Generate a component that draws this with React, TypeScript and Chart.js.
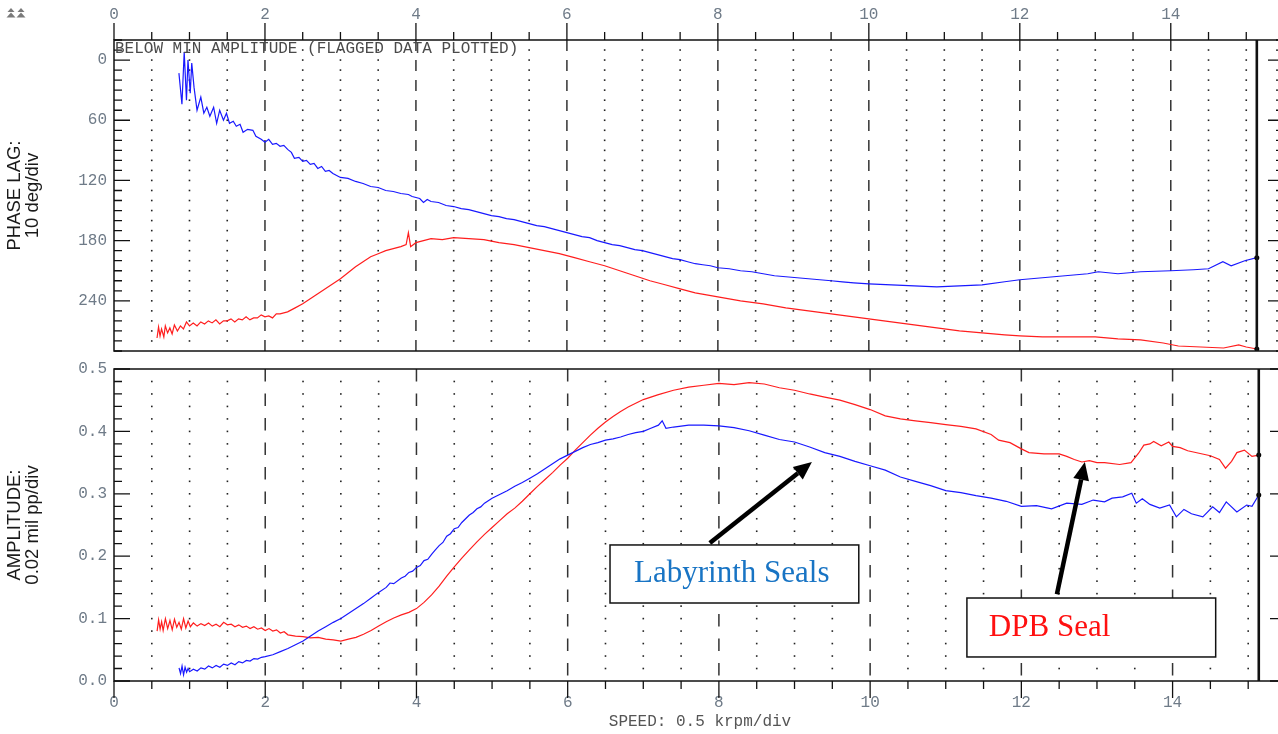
import React, { useEffect, useRef } from 'react';
import { Chart, registerables } from 'chart.js';

Chart.register(...registerables);

// ---------- data ----------
const SPEED_MIN = 0;
const SPEED_MAX = 15.5;
const SPEED_TICK_LABELS = [0, 2, 4, 6, 8, 10, 12, 14];
const PHASE_TICK_LABELS = [0, 60, 120, 180, 240];
const AMP_TICK_LABELS = [0, 0.1, 0.2, 0.3, 0.4, 0.5];

const SERIES_NAMES = ['Labyrinth Seals', 'DPB Seal'];

// [speed krpm, phase lag deg]
const phaseLabyrinth: [number, number][] = [
  [0.86, 13], [0.9, 44], [0.93, -8], [0.96, 40], [0.98, 0], [1.01, 33], [1.03, 3], [1.06, 27],
  [1.1, 50], [1.15, 37], [1.19, 53], [1.23, 47], [1.27, 56], [1.32, 47], [1.36, 63], [1.4, 50],
  [1.45, 60], [1.49, 53], [1.53, 63], [1.58, 61], [1.62, 66], [1.67, 64], [1.71, 72], [1.77, 69],
  [1.84, 70], [1.88, 76], [1.95, 79],
  [2.0, 82], [2.05, 79], [2.1, 84], [2.15, 83], [2.2, 86], [2.25, 85], [2.3, 89], [2.35, 92],
  [2.39, 98], [2.45, 97], [2.5, 101], [2.55, 100], [2.6, 104], [2.65, 103], [2.7, 108], [2.75, 106],
  [2.8, 111], [2.85, 110], [2.9, 113], [2.95, 115], [3.0, 117], [3.1, 118], [3.2, 121], [3.3, 123],
  [3.4, 126], [3.5, 127], [3.6, 130], [3.7, 131], [3.8, 133], [3.9, 134], [3.95, 136], [4.05, 138],
  [4.1, 142], [4.15, 139], [4.2, 141], [4.3, 142], [4.4, 145], [4.5, 146], [4.6, 148], [4.7, 149],
  [4.8, 151], [4.9, 153], [5.0, 155], [5.1, 156], [5.2, 158], [5.3, 159], [5.4, 161], [5.5, 163],
  [5.6, 165], [5.7, 166], [5.8, 168], [5.9, 170], [6.0, 172], [6.1, 174], [6.2, 176], [6.3, 177],
  [6.4, 180], [6.5, 182], [6.6, 184], [6.7, 185], [6.8, 187], [6.9, 189], [7.0, 190], [7.1, 192],
  [7.2, 194], [7.3, 196], [7.4, 198], [7.5, 199], [7.6, 201], [7.7, 203], [7.8, 204], [7.9, 205],
  [8.0, 207], [8.15, 208], [8.3, 210], [8.45, 211], [8.6, 213], [8.75, 215], [8.9, 216],
  [9.05, 217], [9.2, 218], [9.35, 219], [9.5, 220], [9.65, 221], [9.8, 222], [10.0, 223],
  [10.3, 224], [10.6, 225], [10.9, 226], [11.2, 225], [11.5, 224], [11.8, 221], [12.0, 219],
  [12.3, 217], [12.6, 215], [12.9, 213], [13.04, 211], [13.3, 213], [13.6, 211], [14.0, 210],
  [14.3, 209], [14.5, 208], [14.69, 201], [14.8, 205], [14.98, 200], [15.14, 197],
];

const phaseDPB: [number, number][] = [
  [0.57, 277], [0.59, 266], [0.61, 275], [0.63, 268], [0.66, 276], [0.68, 265], [0.71, 272],
  [0.74, 267], [0.77, 273], [0.8, 264], [0.84, 270], [0.88, 265], [0.92, 268], [0.96, 261],
  [1.0, 265], [1.05, 262], [1.1, 265], [1.15, 261], [1.2, 263], [1.25, 260], [1.3, 262],
  [1.35, 259], [1.4, 263], [1.45, 260], [1.5, 260], [1.55, 258], [1.6, 261], [1.65, 258],
  [1.7, 259], [1.75, 256], [1.8, 259], [1.85, 257], [1.9, 257], [1.95, 254], [2.0, 256],
  [2.05, 255], [2.1, 257], [2.15, 253], [2.2, 253], [2.3, 251], [2.4, 247],
  [2.5, 243], [2.6, 238], [2.7, 233], [2.8, 228], [2.9, 223], [3.0, 218], [3.1, 212], [3.2, 206],
  [3.3, 201], [3.4, 196], [3.5, 193], [3.6, 190], [3.7, 188], [3.8, 186], [3.87, 184], [3.9, 172],
  [3.93, 186], [4.0, 182], [4.1, 180], [4.2, 178], [4.35, 179], [4.5, 177], [4.7, 178], [4.9, 179],
  [5.1, 182], [5.3, 184], [5.5, 187], [5.7, 190], [5.9, 193], [6.1, 197], [6.3, 201], [6.5, 205],
  [6.7, 210], [6.9, 215], [7.1, 220], [7.3, 224], [7.5, 228], [7.7, 232], [8.0, 236], [8.3, 240],
  [8.6, 243], [8.9, 247], [9.2, 250], [9.5, 253], [9.8, 256], [10.0, 258], [10.3, 261], [10.6, 264],
  [10.9, 267], [11.2, 270], [11.5, 272], [11.8, 274], [12.0, 275], [12.3, 276], [12.6, 276],
  [13.0, 276], [13.3, 278], [13.6, 279], [13.9, 282], [14.1, 285], [14.4, 286], [14.7, 287],
  [14.9, 284], [15.0, 286], [15.14, 288],
];

// [speed krpm, amplitude mil pp]
const ampLabyrinth: [number, number][] = [
  [0.86, 0.021], [0.88, 0.012], [0.9, 0.024], [0.92, 0.01], [0.94, 0.022], [0.96, 0.014],
  [0.98, 0.02], [1.0, 0.015], [1.05, 0.019], [1.1, 0.016], [1.15, 0.021], [1.2, 0.019],
  [1.25, 0.024], [1.3, 0.021], [1.35, 0.025], [1.4, 0.022], [1.45, 0.027], [1.5, 0.025],
  [1.55, 0.029], [1.6, 0.026], [1.65, 0.031], [1.7, 0.029], [1.75, 0.033], [1.8, 0.032],
  [1.85, 0.036], [1.9, 0.035], [1.95, 0.038], [2.0, 0.039], [2.1, 0.042], [2.2, 0.047],
  [2.3, 0.052], [2.4, 0.058], [2.5, 0.064], [2.6, 0.072],
  [2.7, 0.08], [2.8, 0.087], [2.9, 0.094], [3.0, 0.1], [3.1, 0.108], [3.2, 0.116], [3.3, 0.124],
  [3.4, 0.133], [3.5, 0.142], [3.6, 0.15], [3.65, 0.157], [3.7, 0.156], [3.8, 0.165], [3.85, 0.168],
  [3.9, 0.174], [3.95, 0.176], [4.0, 0.182], [4.05, 0.185], [4.1, 0.193], [4.15, 0.195],
  [4.2, 0.203], [4.25, 0.21], [4.3, 0.217], [4.35, 0.222], [4.4, 0.232], [4.45, 0.236],
  [4.5, 0.244], [4.55, 0.246], [4.6, 0.254], [4.65, 0.26], [4.7, 0.266], [4.75, 0.27],
  [4.8, 0.276], [4.85, 0.279], [4.9, 0.285], [5.0, 0.293], [5.1, 0.299], [5.2, 0.305], [5.3, 0.312],
  [5.4, 0.318], [5.5, 0.325], [5.6, 0.332], [5.7, 0.34], [5.8, 0.348], [5.9, 0.356], [6.0, 0.362],
  [6.1, 0.368], [6.2, 0.374], [6.3, 0.379], [6.4, 0.382], [6.5, 0.386], [6.6, 0.388], [6.7, 0.391],
  [6.8, 0.395], [6.9, 0.398], [7.0, 0.4], [7.1, 0.405], [7.2, 0.41], [7.25, 0.417], [7.3, 0.405],
  [7.4, 0.407], [7.6, 0.41], [7.8, 0.41], [8.0, 0.409], [8.2, 0.406], [8.4, 0.401], [8.6, 0.394],
  [8.8, 0.387], [9.0, 0.383], [9.2, 0.375], [9.4, 0.366], [9.6, 0.36], [9.8, 0.352], [10.0, 0.345],
  [10.2, 0.338], [10.4, 0.327], [10.6, 0.32], [10.8, 0.313], [11.0, 0.305], [11.2, 0.302],
  [11.4, 0.297], [11.6, 0.293], [11.8, 0.288], [12.0, 0.28], [12.2, 0.281], [12.4, 0.276],
  [12.6, 0.285], [12.8, 0.283], [12.95, 0.29], [13.1, 0.287], [13.2, 0.293], [13.34, 0.295],
  [13.46, 0.301], [13.52, 0.285], [13.6, 0.292], [13.7, 0.283], [13.83, 0.277], [13.96, 0.282],
  [14.05, 0.263], [14.15, 0.275], [14.25, 0.268], [14.4, 0.263], [14.53, 0.279], [14.62, 0.27],
  [14.71, 0.287], [14.85, 0.271], [14.98, 0.282], [15.05, 0.28], [15.14, 0.298],
];

const ampDPB: [number, number][] = [
  [0.57, 0.08], [0.59, 0.098], [0.61, 0.083], [0.63, 0.095], [0.65, 0.081], [0.68, 0.1],
  [0.71, 0.084], [0.74, 0.097], [0.77, 0.082], [0.8, 0.099], [0.83, 0.086], [0.86, 0.094],
  [0.89, 0.083], [0.92, 0.1], [0.95, 0.085], [0.98, 0.096], [1.01, 0.087], [1.05, 0.093],
  [1.1, 0.088], [1.15, 0.092], [1.2, 0.089], [1.25, 0.093], [1.3, 0.088], [1.35, 0.091],
  [1.4, 0.087], [1.45, 0.094], [1.5, 0.09], [1.55, 0.091], [1.6, 0.087], [1.65, 0.09],
  [1.7, 0.086], [1.75, 0.088], [1.8, 0.084], [1.85, 0.087], [1.9, 0.083], [1.95, 0.085],
  [2.0, 0.081], [2.05, 0.084], [2.1, 0.08], [2.15, 0.082], [2.2, 0.077], [2.25, 0.079],
  [2.3, 0.074], [2.4, 0.072], [2.5, 0.071], [2.6, 0.069], [2.7, 0.07], [2.8, 0.067],
  [2.9, 0.066], [3.0, 0.064],
  [3.1, 0.067], [3.2, 0.07], [3.3, 0.075], [3.4, 0.081], [3.5, 0.088], [3.6, 0.095], [3.7, 0.101],
  [3.8, 0.106], [3.9, 0.11], [4.0, 0.116], [4.1, 0.126], [4.2, 0.138], [4.3, 0.152], [4.4, 0.168],
  [4.5, 0.183], [4.6, 0.197], [4.7, 0.21], [4.8, 0.223], [4.9, 0.235], [5.0, 0.246], [5.1, 0.257],
  [5.2, 0.268], [5.3, 0.277], [5.4, 0.288], [5.5, 0.3], [5.6, 0.312], [5.7, 0.323], [5.8, 0.334],
  [5.9, 0.346], [6.0, 0.357], [6.1, 0.37], [6.2, 0.382], [6.3, 0.394], [6.4, 0.405], [6.5, 0.415],
  [6.6, 0.424], [6.7, 0.432], [6.8, 0.439], [6.9, 0.445], [7.0, 0.451], [7.2, 0.459], [7.4, 0.466],
  [7.6, 0.471], [7.8, 0.474], [8.0, 0.477], [8.2, 0.475], [8.4, 0.478], [8.6, 0.476], [8.8, 0.47],
  [9.0, 0.466], [9.2, 0.46], [9.4, 0.455], [9.6, 0.45], [9.8, 0.443], [10.0, 0.435], [10.2, 0.425],
  [10.4, 0.42], [10.6, 0.417], [10.8, 0.414], [11.0, 0.411], [11.2, 0.408], [11.4, 0.404],
  [11.6, 0.395], [11.7, 0.386], [11.85, 0.382], [12.0, 0.372], [12.1, 0.366], [12.3, 0.364],
  [12.5, 0.364], [12.6, 0.36], [12.7, 0.355], [12.8, 0.351], [12.9, 0.353], [13.0, 0.35],
  [13.1, 0.35], [13.3, 0.347], [13.45, 0.35], [13.55, 0.365], [13.62, 0.378], [13.7, 0.38],
  [13.75, 0.384], [13.85, 0.377], [13.95, 0.383], [14.0, 0.376], [14.1, 0.374], [14.2, 0.369],
  [14.35, 0.365], [14.5, 0.361], [14.62, 0.355], [14.7, 0.341], [14.78, 0.352], [14.85, 0.366],
  [14.95, 0.37], [15.05, 0.36], [15.14, 0.362],
];

// annotation callouts (in data units of the amplitude panel)
const CALLOUTS = [
  { text: 'Labyrinth Seals', color: '#1874c4', box: [6.56, 0.218, 9.85, 0.125], textAt: [8.17, 0.1715], align: 'center', from: [7.88, 0.221], to: [9.23, 0.351] },
  { text: 'DPB Seal', color: '#ff1010', box: [11.28, 0.133, 14.57, 0.0385], textAt: [11.57, 0.085], align: 'left', from: [12.47, 0.139], to: [12.84, 0.351] },
];

// ---------- styling ----------
const W = 1300;
const H = 734;
const MONO = "'Liberation Mono', 'Courier New', monospace";
const SANS = "'Liberation Sans', Arial, sans-serif";
const SERIF = "'Liberation Serif', 'Times New Roman', serif";
const TICK_COLOR = '#6f7b88';
const BLUE = 'rgb(25,25,255)';
const RED = 'rgb(255,30,30)';

const toXY = (pairs: [number, number][]) => pairs.map(([x, y]) => ({ x, y }));
const isAmong = (v: number, list: number[]) => list.some((l) => Math.abs(l - v) < 1e-6);
const endDot = (ctx: any) => (ctx.dataIndex === ctx.dataset.data.length - 1 ? 2.5 : 0);

function makeFramePlugin(id: string, side: 'top' | 'bottom', yLabels: number[], dash: number[]) {
  return {
    id,
    beforeDatasetsDraw(chart: any) {
      const { ctx, chartArea: a, scales } = chart;
      const x = scales.x;
      const y = scales.y;
      ctx.save();
      for (const t of x.ticks) {
        const px = x.getPixelForValue(t.value);
        if (px <= a.left + 1 || px >= a.right - 1) continue;
        if (isAmong(t.value, SPEED_TICK_LABELS)) {
          ctx.strokeStyle = '#333';
          ctx.lineWidth = 1.5;
          ctx.setLineDash(dash);
          ctx.beginPath();
          ctx.moveTo(px, a.top);
          ctx.lineTo(px, a.bottom);
          ctx.stroke();
          ctx.setLineDash([]);
        } else {
          ctx.fillStyle = '#222';
          for (const yt of y.ticks) {
            const py = y.getPixelForValue(yt.value);
            if (py <= a.top + 2 || py >= a.bottom - 2) continue;
            ctx.fillRect(px - 0.8, py - 0.8, 1.6, 1.6);
          }
        }
      }
      ctx.restore();
    },
    afterDatasetsDraw(chart: any) {
      const { ctx, chartArea: a, scales } = chart;
      const x = scales.x;
      const y = scales.y;
      ctx.save();
      ctx.strokeStyle = '#111';
      ctx.lineWidth = 1.5;
      ctx.strokeRect(a.left, a.top, a.right - a.left, a.bottom - a.top);
      // y ticks (inside, both sides)
      ctx.lineWidth = 1.3;
      for (const t of y.ticks) {
        const py = y.getPixelForValue(t.value);
        const len = isAmong(t.value, yLabels) ? 16 : 8;
        ctx.beginPath();
        ctx.moveTo(a.left, py);
        ctx.lineTo(a.left + len, py);
        ctx.moveTo(a.right, py);
        ctx.lineTo(a.right - len, py);
        ctx.stroke();
      }
      // x ticks (outside)
      for (const t of x.ticks) {
        const px = x.getPixelForValue(t.value);
        const len = isAmong(t.value, SPEED_TICK_LABELS) ? 17 : 8;
        ctx.beginPath();
        if (side === 'top') {
          ctx.moveTo(px, a.top);
          ctx.lineTo(px, a.top - len);
        } else {
          ctx.moveTo(px, a.bottom);
          ctx.lineTo(px, a.bottom + len);
        }
        ctx.stroke();
      }
      // end-of-data marker
      const lastSpeed = phaseLabyrinth[phaseLabyrinth.length - 1][0];
      const ex = x.getPixelForValue(lastSpeed);
      ctx.lineWidth = 2.6;
      ctx.beginPath();
      ctx.moveTo(ex, a.top);
      ctx.lineTo(ex, a.bottom);
      ctx.stroke();

      if (side === 'top') {
        ctx.fillStyle = '#4a4a4a';
        ctx.font = `16px ${MONO}`;
        ctx.textAlign = 'left';
        ctx.textBaseline = 'middle';
        ctx.fillText('BELOW MIN AMPLITUDE (FLAGGED DATA PLOTTED)', a.left + 1, a.top + 8.5);
        // small collapse icons
        ctx.fillStyle = '#7a7a7a';
        for (const cx of [11, 21]) {
          ctx.beginPath();
          ctx.moveTo(cx, 8);
          ctx.lineTo(cx + 3.5, 12);
          ctx.lineTo(cx - 3.5, 12);
          ctx.closePath();
          ctx.fill();
          ctx.beginPath();
          ctx.moveTo(cx, 12.5);
          ctx.lineTo(cx + 4.5, 17.5);
          ctx.lineTo(cx - 4.5, 17.5);
          ctx.closePath();
          ctx.fill();
        }
      } else {
        for (const c of CALLOUTS) {
          const bx1 = x.getPixelForValue(c.box[0]);
          const by1 = y.getPixelForValue(c.box[1]);
          const bx2 = x.getPixelForValue(c.box[2]);
          const by2 = y.getPixelForValue(c.box[3]);
          ctx.fillStyle = '#fff';
          ctx.fillRect(bx1, by1, bx2 - bx1, by2 - by1);
          ctx.strokeStyle = '#111';
          ctx.lineWidth = 1.5;
          ctx.strokeRect(bx1, by1, bx2 - bx1, by2 - by1);
          ctx.fillStyle = c.color;
          ctx.font = `31px ${SERIF}`;
          ctx.textAlign = c.align as CanvasTextAlign;
          ctx.textBaseline = 'middle';
          ctx.fillText(c.text, x.getPixelForValue(c.textAt[0]), y.getPixelForValue(c.textAt[1]));
          // arrow
          const x1 = x.getPixelForValue(c.from[0]);
          const y1 = y.getPixelForValue(c.from[1]);
          const x2 = x.getPixelForValue(c.to[0]);
          const y2 = y.getPixelForValue(c.to[1]);
          const ang = Math.atan2(y2 - y1, x2 - x1);
          const hl = 18;
          const hw = 8;
          const bx = x2 - hl * Math.cos(ang);
          const by = y2 - hl * Math.sin(ang);
          ctx.strokeStyle = '#000';
          ctx.fillStyle = '#000';
          ctx.lineWidth = 4.5;
          ctx.beginPath();
          ctx.moveTo(x1, y1);
          ctx.lineTo(bx, by);
          ctx.stroke();
          ctx.beginPath();
          ctx.moveTo(x2, y2);
          ctx.lineTo(bx + hw * Math.sin(ang), by - hw * Math.cos(ang));
          ctx.lineTo(bx - hw * Math.sin(ang), by + hw * Math.cos(ang));
          ctx.closePath();
          ctx.fill();
        }
      }
      ctx.restore();
    },
  };
}

function dataset(label: string, pairs: [number, number][], color: string) {
  return {
    label,
    data: toXY(pairs),
    borderColor: color,
    borderWidth: 1.2,
    pointRadius: endDot,
    pointBackgroundColor: '#000',
    pointBorderColor: '#000',
    pointBorderWidth: 0,
    tension: 0,
    fill: false,
  };
}

function speedScale(position: 'top' | 'bottom') {
  return {
    type: 'linear',
    position,
    min: SPEED_MIN,
    max: SPEED_MAX,
    grid: { display: false, drawTicks: false },
    border: { display: false },
    ticks: {
      stepSize: 0.5,
      autoSkip: false,
      maxRotation: 0,
      padding: position === 'top' ? 16 : 12,
      color: TICK_COLOR,
      font: { family: MONO, size: 16 },
      callback: (v: number) => (isAmong(v, SPEED_TICK_LABELS) ? String(Math.round(v)) : ''),
    },
    title:
      position === 'bottom'
        ? { display: true, text: 'SPEED: 0.5 krpm/div', color: '#555', font: { family: MONO, size: 16 }, padding: { top: 0, bottom: 3 } }
        : { display: false },
    afterFit: (s: any) => {
      s.height = position === 'top' ? 40 : 53;
    },
  };
}

const Y_TITLE_FONT = { family: SANS, size: 18.5, lineHeight: 0.975 };

export default function App() {
  const topRef = useRef<HTMLCanvasElement>(null);
  const botRef = useRef<HTMLCanvasElement>(null);

  useEffect(() => {
    const common = {
      animation: false,
      responsive: false,
      maintainAspectRatio: false,
      events: [],
      plugins: { legend: { display: false }, tooltip: { enabled: false } },
    };
    const top = new Chart(topRef.current as HTMLCanvasElement, {
      type: 'line',
      data: {
        datasets: [dataset(SERIES_NAMES[0], phaseLabyrinth, BLUE), dataset(SERIES_NAMES[1], phaseDPB, RED)],
      },
      options: {
        ...common,
        layout: { padding: { left: 0, right: 14, top: 0, bottom: 383 } },
        scales: {
          x: speedScale('top'),
          y: {
            type: 'linear',
            position: 'left',
            reverse: true,
            min: -20,
            max: 290,
            grid: { display: false, drawTicks: false },
            border: { display: false },
            ticks: {
              stepSize: 10,
              autoSkip: false,
              padding: 7,
              color: TICK_COLOR,
              font: { family: MONO, size: 16 },
              callback: (v: number) => (isAmong(v, PHASE_TICK_LABELS) ? String(Math.round(v)) : ''),
            },
            title: {
              display: true,
              text: ['PHASE LAG:', '10 deg/div'],
              color: '#1a1a1a',
              font: Y_TITLE_FONT,
              padding: { top: 6, bottom: 0 },
            },
            afterFit: (s: any) => {
              s.width = 114;
            },
          },
        },
      } as any,
      plugins: [makeFramePlugin('framePhase', 'top', PHASE_TICK_LABELS, [11, 9])],
    });

    const bot = new Chart(botRef.current as HTMLCanvasElement, {
      type: 'line',
      data: {
        datasets: [dataset(SERIES_NAMES[0], ampLabyrinth, BLUE), dataset(SERIES_NAMES[1], ampDPB, RED)],
      },
      options: {
        ...common,
        layout: { padding: { left: 0, right: 14, top: 369, bottom: 0 } },
        scales: {
          x: speedScale('bottom'),
          y: {
            type: 'linear',
            position: 'left',
            min: 0,
            max: 0.5,
            grid: { display: false, drawTicks: false },
            border: { display: false },
            ticks: {
              stepSize: 0.02,
              autoSkip: false,
              padding: 7,
              color: TICK_COLOR,
              font: { family: MONO, size: 16 },
              callback: (v: number) => (isAmong(v, AMP_TICK_LABELS) ? v.toFixed(1) : ''),
            },
            title: {
              display: true,
              text: ['AMPLITUDE:', '0.02 mil pp/div'],
              color: '#1a1a1a',
              font: Y_TITLE_FONT,
              padding: { top: 6, bottom: 0 },
            },
            afterFit: (s: any) => {
              s.width = 114;
            },
          },
        },
      } as any,
      plugins: [makeFramePlugin('frameAmp', 'bottom', AMP_TICK_LABELS, [12.5, 12])],
    });

    return () => {
      top.destroy();
      bot.destroy();
    };
  }, []);

  return (
    <div style={{ position: 'fixed', left: 0, top: 0, width: 1278, height: 734, overflow: 'hidden', background: '#fff' }}>
      <canvas ref={botRef} width={W} height={H} style={{ position: 'absolute', left: 0, top: 0, width: W, height: H }} />
      <canvas ref={topRef} width={W} height={H} style={{ position: 'absolute', left: 0, top: 0, width: W, height: H }} />
    </div>
  );
}
